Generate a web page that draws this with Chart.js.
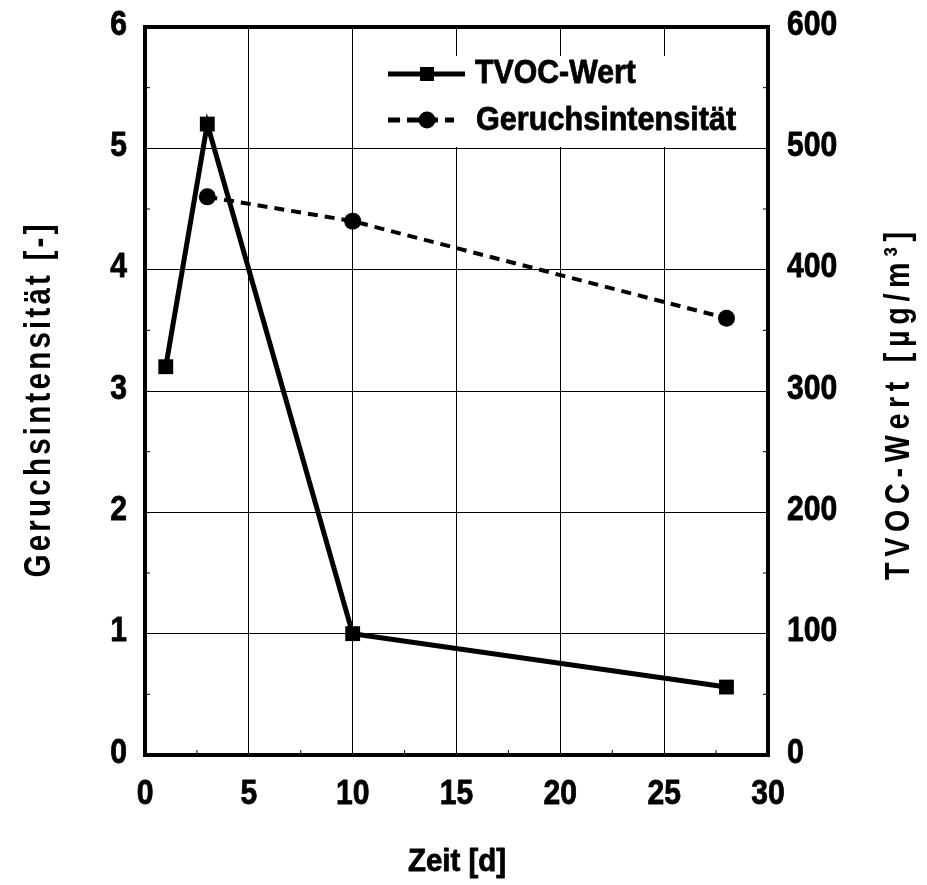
<!DOCTYPE html>
<html>
<head>
<meta charset="utf-8">
<script src="https://cdn.jsdelivr.net/npm/chart.js@4.4.1/dist/chart.umd.min.js"></script>
<style>
  body { margin: 0; background: #fff; }
  canvas { display: block; }
</style>
</head>
<body>
<canvas id="c" width="927" height="885"></canvas>
<script>
// data
const tvocDays = [1, 3, 10, 28];
const tvocValues = [320, 520, 100, 56];          // µg/m³, right axis
const odourDays = [3, 10, 28];
const odourValues = [4.6, 4.4, 3.6];             // Geruchsintensität, left axis
const xTicks = [0, 5, 10, 15, 20, 25, 30];
const leftTicks = [0, 1, 2, 3, 4, 5, 6];
const rightTicks = [0, 100, 200, 300, 400, 500, 600];

const FONT = '"Liberation Sans", Arial, sans-serif';

const toPts = (xs, ys) => xs.map((x, i) => ({ x, y: ys[i] }));

// narrow-looking text: squeeze horizontally, a little heavier
function squeezed(ctx, text, x, y, size, sx, align) {
  ctx.save();
  ctx.font = `bold ${size}px ${FONT}`;
  ctx.textAlign = align;
  ctx.textBaseline = 'middle';
  ctx.fillStyle = '#000';
  ctx.strokeStyle = '#000';
  ctx.lineWidth = 0.8;
  ctx.lineJoin = 'round';
  ctx.translate(x, y);
  ctx.scale(sx, 1);
  ctx.fillText(text, 0, 0);
  ctx.strokeText(text, 0, 0);
  ctx.restore();
}

// letter-spaced vertical title, stretched to a given length
function spacedTitle(ctx, text, cx, cy, size, sx, len) {
  ctx.save();
  ctx.font = `bold ${size}px ${FONT}`;
  ctx.textBaseline = 'middle';
  ctx.textAlign = 'left';
  ctx.fillStyle = '#000';
  ctx.translate(cx, cy);
  ctx.rotate(-Math.PI / 2);
  const chars = [...text];
  const ws = chars.map(c => ctx.measureText(c).width * sx);
  const total = ws.reduce((a, b) => a + b, 0);
  const gap = (len - total) / (chars.length - 1);
  let x = -len / 2;
  chars.forEach((c, i) => {
    ctx.save();
    ctx.translate(x, 0);
    ctx.scale(sx, 1);
    ctx.fillText(c, 0, 0);
    ctx.restore();
    x += ws[i] + gap;
  });
  ctx.restore();
}

const decor = {
  id: 'decor',
  beforeDatasetsDraw(chart) {
    const { ctx } = chart;
    const ds = chart.data.datasets;
    ctx.save();
    ctx.fillStyle = '#fff';
    ctx.fillRect(378, 56, 388, 91);
    ctx.strokeStyle = '#000';
    ctx.fillStyle = '#000';
    // TVOC sample
    ctx.lineWidth = 5;
    ctx.beginPath(); ctx.moveTo(388, 74); ctx.lineTo(465, 74); ctx.stroke();
    ctx.fillRect(420, 67, 14, 14);
    // odour sample
    ctx.lineWidth = 5;
    ctx.setLineDash([12, 7]);
    ctx.beginPath(); ctx.moveTo(388, 120); ctx.lineTo(454, 120); ctx.stroke();
    ctx.setLineDash([]);
    ctx.beginPath(); ctx.arc(427, 120, 8.5, 0, Math.PI * 2); ctx.fill();
    ctx.restore();
    squeezed(ctx, ds[0].label, 475, 74, 34, 0.89, 'left');
    squeezed(ctx, ds[1].label, 476, 121, 34, 0.9, 'left');
  },
  afterDraw(chart) {
    const { ctx, chartArea: a, scales } = chart;
    ctx.save();
    // minor ticks
    ctx.strokeStyle = '#000';
    ctx.lineWidth = 1;
    ctx.beginPath();
    for (let v = 2.5; v < 30; v += 5) {
      const px = scales.x.getPixelForValue(v);
      ctx.moveTo(px, a.bottom); ctx.lineTo(px, a.bottom - 5);
    }
    for (let v = 0.5; v < 6; v += 1) {
      const py = scales.y.getPixelForValue(v);
      ctx.moveTo(a.left, py); ctx.lineTo(a.left + 5, py);
    }
    for (let v = 50; v < 600; v += 100) {
      const py = scales.y1.getPixelForValue(v);
      ctx.moveTo(a.right, py); ctx.lineTo(a.right - 5, py);
    }
    ctx.stroke();
    // frame
    ctx.lineWidth = 4;
    ctx.strokeRect(a.left, a.top, a.right - a.left, a.bottom - a.top);
    ctx.restore();

    // tick labels from the scales
    scales.x.ticks.forEach(t => squeezed(ctx, String(t.value), scales.x.getPixelForValue(t.value), a.bottom + 39, 35, 0.86, 'center'));
    scales.y.ticks.forEach(t => squeezed(ctx, String(t.value), a.left - 18, scales.y.getPixelForValue(t.value) - 2, 35, 0.86, 'right'));
    scales.y1.ticks.forEach(t => squeezed(ctx, String(t.value), a.right + 19, scales.y1.getPixelForValue(t.value) - 2, 35, 0.86, 'left'));

    // axis titles
    squeezed(ctx, 'Zeit [d]', 457, 862, 31, 0.95, 'center');
    spacedTitle(ctx, 'Geruchsintensität [-]', 40, 401, 36, 0.82, 353);
    spacedTitle(ctx, 'TVOC-Wert [µg/m³]', 899, 406, 35, 0.82, 348);
  }
};

new Chart(document.getElementById('c'), {
  type: 'line',
  data: {
    datasets: [{
      label: 'TVOC-Wert',
      data: toPts(tvocDays, tvocValues),
      yAxisID: 'y1',
      borderColor: '#000',
      backgroundColor: '#000',
      borderWidth: 5,
      pointStyle: 'rect',
      pointRadius: 10.5,
      pointBorderWidth: 0,
      tension: 0,
    }, {
      label: 'Geruchsintensität',
      data: toPts(odourDays, odourValues),
      yAxisID: 'y',
      borderColor: '#000',
      backgroundColor: '#000',
      borderWidth: 4,
      borderDash: [10, 7],
      pointStyle: 'circle',
      pointRadius: 8.5,
      pointBorderWidth: 0,
      tension: 0,
    }],
  },
  options: {
    responsive: false,
    animation: false,
    devicePixelRatio: 1,
    layout: { padding: { top: 27, left: 0, right: 0, bottom: 0 } },
    plugins: { legend: { display: false }, tooltip: { enabled: false } },
    scales: {
      x: {
        type: 'linear', min: 0, max: 30,
        afterBuildTicks: s => { s.ticks = xTicks.map(v => ({ value: v })); },
        afterFit: s => { s.height = 130; },
        grid: { color: '#000', lineWidth: 1, drawTicks: false },
        border: { display: false },
        ticks: { display: false },
      },
      y: {
        position: 'left', min: 0, max: 6,
        afterBuildTicks: s => { s.ticks = leftTicks.map(v => ({ value: v })); },
        afterFit: s => { s.width = 145; },
        grid: { color: '#000', lineWidth: 1, drawTicks: false },
        border: { display: false },
        ticks: { display: false },
      },
      y1: {
        position: 'right', min: 0, max: 600,
        afterBuildTicks: s => { s.ticks = rightTicks.map(v => ({ value: v })); },
        afterFit: s => { s.width = 159; },
        grid: { display: false, drawTicks: false },
        border: { display: false },
        ticks: { display: false },
      },
    },
  },
  plugins: [decor],
});
</script>
</body>
</html>
